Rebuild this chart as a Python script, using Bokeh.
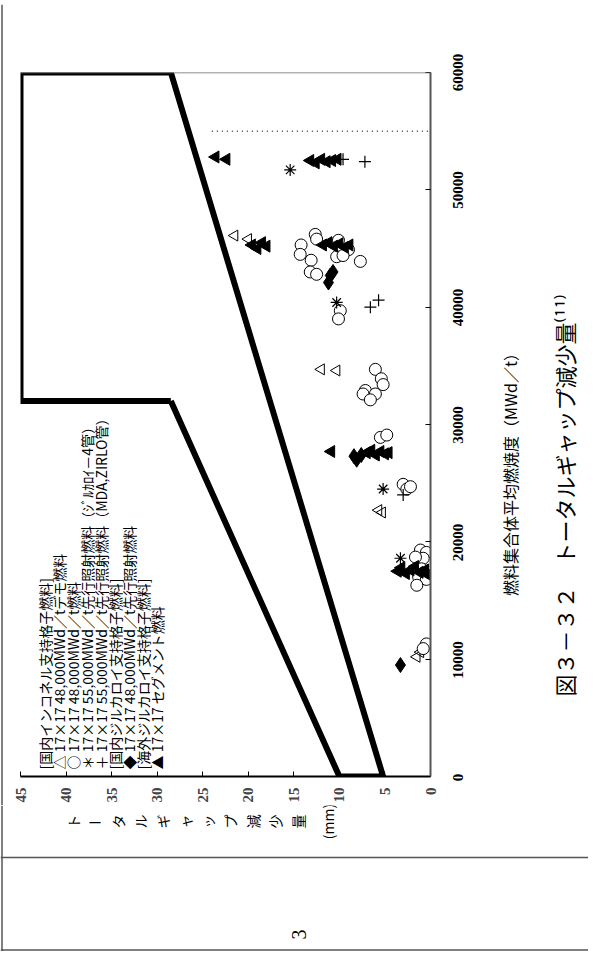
import math
from bokeh.plotting import figure
from bokeh.layouts import column, row
from bokeh.models import Range1d, FixedTicker, Span
from bokeh.core.properties import value
from bokeh.embed import file_html
from bokeh.resources import INLINE

# ---------------- data ----------------
gap_ticks = [0, 5, 10, 15, 20, 25, 30, 35, 40, 45]
burnup_ticks = [0, 10000, 20000, 30000, 40000, 50000, 60000]
burnup_tick_labels = ["0", "10000", "20000", "30000", "40000", "50000", "60000"]

# envelope (thick boundary)
env_gap = [28.5, 10, 5.2, 28.5, 45, 45, 28.5]
env_burnup = [32000, 0, 0, 60000, 60000, 32000, 32000]

# dotted line at 55,000 MWd/t
lim_gap = [24, 0]
lim_burnup = [55000, 55000]

# open triangles: 17x17 48,000MWd/t demo fuel
tri_gap = [12.0, 10.3, 21.5, 20.0, 5.7, 5.3, 1.5, 1.1]
tri_bu = [34700, 34600, 46100, 45800, 22700, 22500, 10200, 10600]

# open circles: 17x17 48,000MWd/t fuel
cir_gap = [0.45, 0.8, 1.1, 0.45, 0.8, 1.0, 1.3, 0.45, 1.5, 1.65,
           3.0, 2.6, 2.2, 5.5, 4.8,
           6.05, 5.4, 5.2, 7.15, 7.4, 6.05, 6.6,
           9.9, 10.1,
           12.65, 12.5, 14.2, 14.3, 13.1, 13.2, 12.5, 10.1, 9.0, 10.3, 9.6, 7.7]
cir_bu = [11300, 10900, 19300, 19100, 18600, 17700, 17000, 16800, 16300, 18700,
          24900, 24500, 24700, 28900, 29100,
          34700, 33900, 33400, 32900, 32600, 32600, 32100,
          39700, 39000,
          46200, 45800, 45300, 44500, 44000, 43000, 42800, 45700, 44900, 44300, 44400, 43900]

# asterisks: 55,000MWd/t lead (Zircaloy-4)
ast_gap = [3.3, 5.2, 10.3, 15.4]
ast_bu = [18600, 24500, 40400, 51700]

# plus: 55,000MWd/t lead (MDA, ZIRLO)
pls_gap = [3.0, 6.6, 5.7, 9.6, 7.2]
pls_bu = [24000, 40000, 40600, 52600, 52400]

# filled diamonds: domestic zircaloy grid lead fuel
dia_gap = [3.3, 8.1, 7.6, 8.4, 11.0, 11.2, 10.7]
dia_bu = [9500, 27000, 27400, 27300, 42700, 42100, 43000]

# filled triangles: overseas segment fuel
seg_gap = [3.6, 3.2, 2.7, 2.2, 1.7, 1.2, 0.6, 0.3,
           10.9, 7.0, 6.5, 6.0, 5.5, 5.0, 4.6,
           19.6, 19.0, 18.5, 18.0, 11.8, 11.2, 10.6, 10.0, 9.4, 8.9,
           23.6, 22.4, 13.2, 12.6, 12.0, 11.4, 10.8, 10.2]
seg_bu = [17500, 17800, 17300, 17600, 17900, 17400, 17600, 17200,
          27700, 27600, 27800, 27400, 27700, 27500, 27600,
          45300, 45000, 45500, 45200, 45300, 45500, 45200, 45400, 45100, 45300,
          52800, 52600, 52500, 52300, 52600, 52400, 52500, 52600]

legend_lines = [
    "[国内インコネル支持格子燃料]",
    "△ 17×17 48,000MWd／tデモ燃料",
    "○ 17×17 48,000MWd／t燃料",
    "＊ 17×17 55,000MWd／t先行照射燃料（ｼﾞﾙｶﾛｲ－4管）",
    "＋ 17×17 55,000MWd／t先行照射燃料（MDA,ZIRLO管）",
    "[国内ジルカロイ支持格子燃料]",
    "◆ 17×17 48,000MWd／t先行照射燃料",
    "[海外ジルカロイ支持格子燃料]",
    "▲ 17×17 セグメント燃料",
]
x_title = "燃料集合体平均燃焼度（MWd／t）"
y_title_chars = list("トータルギャップ減少量") + ["(mm)"]
caption = "図３－３２　トータルギャップ減少量⁽¹¹⁾"
page_no = "3"

# ---------------- layout constants (page pixels) ----------------
JP = "Noto Sans CJK JP"
NUM = "Liberation Sans Narrow"
HALF = math.pi / 2
W = 588
STRIP = 4
B_LEFT, FRAME_W, B_RIGHT = 16, 410, 10
B_TOP, FRAME_H, B_BOTTOM = 68, 705, 28
H1 = B_TOP + FRAME_H + B_BOTTOM
MAIN_W = B_LEFT + FRAME_W + B_RIGHT
SIDE_W = W - STRIP - MAIN_W
H2 = 951 - STRIP - H1
BU_PER_PX = 60000 / FRAME_H
GAP_PER_PX = 45 / FRAME_W
X0 = 8 + STRIP + B_LEFT + FRAME_W          # page x of gap = 0
Y0 = 8 + STRIP + B_TOP + FRAME_H           # page y of burnup = 0
LINE = "#555555"


def gap_at(px):
    return (X0 - px) * GAP_PER_PX


def bu_at(py):
    return (Y0 - py) * BU_PER_PX


def base(fig):
    fig.outline_line_color = None
    fig.background_fill_color = "white"
    fig.border_fill_color = "white"
    fig.xgrid.visible = False
    fig.ygrid.visible = False
    fig.frame_align = False
    return fig


def blank(w, h, xr, yr):
    f = figure(width=w, height=h, x_range=xr, y_range=yr, title=None, output_backend="svg",
               toolbar_location=None, min_border=0, x_axis_location=None, y_axis_location=None)
    return base(f)


# ---------------- main chart ----------------
p = figure(width=MAIN_W, height=H1, x_range=Range1d(45, 0), y_range=Range1d(0, 60000),
           title=None, output_backend="svg", toolbar_location=None, y_axis_location="right",
           min_border_left=B_LEFT, min_border_right=B_RIGHT,
           min_border_top=B_TOP, min_border_bottom=B_BOTTOM)
base(p)

xa = p.xaxis[0]
xa.ticker = FixedTicker(ticks=gap_ticks)
xa.major_tick_in = 5
xa.major_tick_out = 0
xa.minor_tick_line_color = None
xa.axis_line_width = 2
xa.axis_line_color = "black"
xa.major_label_orientation = HALF
xa.major_label_text_font = NUM
xa.major_label_text_font_style = "bold"
xa.major_label_text_font_size = "15px"
xa.major_label_standoff = 11

ya = p.yaxis[0]
ya.ticker = FixedTicker(ticks=burnup_ticks)
ya.major_tick_in = 5
ya.major_tick_out = 0
ya.minor_tick_line_color = None
ya.axis_line_width = 2
ya.axis_line_color = LINE
ya.major_label_overrides = {t: "" for t in burnup_ticks}
ya.major_label_standoff = 0

p.add_layout(Span(location=60000, dimension="width", line_color="#666666", line_width=1.5))

p.line(env_gap, env_burnup, line_color="black", line_width=6, line_join="round")
p.line(lim_gap, lim_burnup, line_color="#444444", line_width=1.5, line_dash="1 4")

p.scatter(tri_gap, tri_bu, marker="triangle", angle=HALF, size=11, fill_color=None,
          line_color="black", line_width=1)
p.scatter(cir_gap, cir_bu, marker="circle", size=12, fill_color="white",
          line_color="black", line_width=1)
p.scatter(ast_gap, ast_bu, marker="asterisk", size=12, line_color="black", line_width=1.2)
p.scatter(pls_gap, pls_bu, marker="cross", size=12, line_color="black", line_width=1.2)
p.scatter(dia_gap, dia_bu, marker="diamond", size=15, fill_color="black", line_color="black")
p.scatter(seg_gap, seg_bu, marker="triangle", angle=HALF, size=12, fill_color="black",
          line_color="black")

lg_x = [gap_at(52 + 14.0 * i) for i in range(len(legend_lines))]
lg_y = [bu_at(778)] * len(legend_lines)
p.text(lg_x, lg_y, text=legend_lines, angle=HALF, text_font=value(JP),
       text_font_size="14px", text_align="left", text_baseline="middle", text_color="black")

# ---------------- right side: tick labels, title, caption ----------------
s = blank(SIDE_W, H1, Range1d(0, SIDE_W),
          Range1d(-B_BOTTOM * BU_PER_PX, 60000 + B_TOP * BU_PER_PX))
sx0 = 8 + STRIP + MAIN_W
s.text([465 - sx0] * len(burnup_ticks), burnup_ticks, text=burnup_tick_labels, angle=HALF,
       text_font=value(NUM), text_font_style="bold", text_font_size="15px",
       text_align="center", text_baseline="middle", text_color="black")
s.text([517 - sx0], [bu_at(478)], text=[x_title], angle=HALF, text_font=value(JP),
       text_font_size="16px", text_align="center", text_baseline="middle", text_color="black")
s.text([571 - sx0], [bu_at(503)], text=[caption], angle=HALF, text_font=value(JP),
       text_font_size="22px", text_align="center", text_baseline="middle", text_color="black")

# ---------------- page frame strips ----------------
top_strip = blank(W, STRIP, Range1d(0, W), Range1d(STRIP, 0))
top_strip.add_layout(Span(location=1.5, dimension="width", line_color=LINE, line_width=1.5))
left_strip = blank(STRIP, H1, Range1d(0, STRIP), Range1d(H1, 0))
left_strip.add_layout(Span(location=1.5, dimension="height", line_color=LINE, line_width=1.5))

# ---------------- bottom: gap axis title (vertical writing, rotated) + page cell ----------------
ytop = 8 + STRIP + H1
b = blank(W, H2, Range1d(8, 8 + W), Range1d(ytop + H2, ytop))
yt_x = [80 + 22.5 * i for i in range(len(y_title_chars) - 1)] + [335]
yt_y = [829] * len(y_title_chars)
yt_ang = [0 if c == "ー" else HALF for c in y_title_chars]
b.text(yt_x, yt_y, text=y_title_chars, angle=yt_ang, text_font=value(JP),
       text_font_size="14px", text_align="center", text_baseline="middle", text_color="black")
b.add_layout(Span(location=865, dimension="width", line_color=LINE, line_width=1.5))
b.add_layout(Span(location=9.5, dimension="height", line_color=LINE, line_width=1.5))
b.add_layout(Span(location=957.5, dimension="width", line_color=LINE, line_width=1.5))
b.text([306], [942], text=[page_no], angle=HALF, text_font=value("Liberation Serif"),
       text_font_size="20px", text_align="center", text_baseline="middle", text_color="black")

layout = column(top_strip, row(left_strip, p, s, spacing=0), b, spacing=0)
open("out.html", "w").write(file_html(layout, INLINE))
